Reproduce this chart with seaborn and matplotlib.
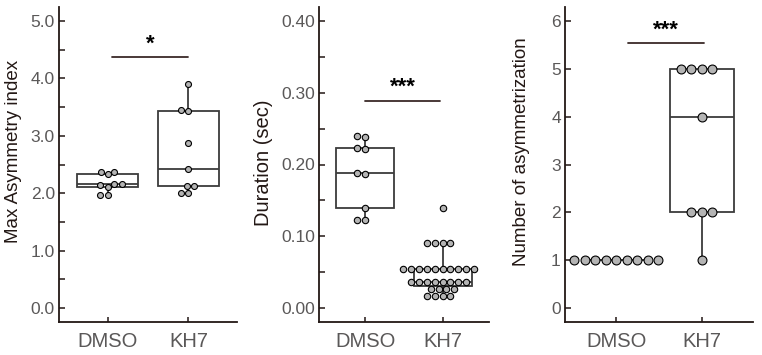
import numpy as np
import pandas as pd
import matplotlib
matplotlib.use("Agg")
import matplotlib.pyplot as plt
from matplotlib.ticker import MultipleLocator, FormatStrFormatter
import seaborn as sns
import seaborn.categorical as sc

# ── DATA ───────────────────────────────────────────────────────
GROUPS = ["DMSO", "KH7"]

asym_dmso = [1.96, 1.96, 2.10, 2.14, 2.155, 2.16, 2.33, 2.375, 2.375]
asym_kh7 = [2.0, 2.0, 2.12, 2.13, 2.43, 2.87, 3.44, 3.45, 3.91]

dur_dmso = [0.122, 0.122, 0.139, 0.187, 0.188, 0.222, 0.223, 0.239, 0.240]
dur_kh7 = ([0.017] * 4 + [0.026] * 4 + [0.036] * 8 + [0.055] * 10
           + [0.090] * 4 + [0.140])

num_dmso = [1] * 9
num_kh7 = [1, 2, 2, 2, 4, 5, 5, 5, 5]

ylabels = ["Max Asymmetry index", "Duration (sec)", "Number of asymmetrization"]
sig_text = ["*", "***", "***"]
sig_y = [4.37, 0.289, 5.53]
sig_x = [(0.06, 1.0), (0.0, 0.97), (0.14, 1.03)]

# ── STYLE ──────────────────────────────────────────────────────
sns.set_style("ticks")
plt.rcParams["font.family"] = ["Liberation Sans", "DejaVu Sans"]
INK = "#231815"
TICK = "#5a5858"
BOXC = "#3c3c3c"
DOT = "#b4b4b4"

# rows of 9-10 equal values are wider than seaborn's 0.8 swarm band,
# so switch off the gutter clipping and let the rows spread out
sc.Beeswarm.add_gutters = lambda self, points, *a, **k: points

fig = plt.figure(figsize=(7.62, 3.55), dpi=100)
pos = [(0.0774, 0.311), (0.4186, 0.6417), (0.7415, 0.988)]
bottom, top = 1 - 322 / 355, 1 - 7 / 355
label_xy = [(-0.258, 0.54), (-0.324, 0.506), (-0.234, 0.541)]

panels = [
    (asym_dmso, asym_kh7, (-0.244, 5.244), 1.0, 0.5, "%.1f", 4.3, 1.5, 13.5),
    (dur_dmso, dur_kh7, (-0.0195, 0.4195), 0.1, 0.05, "%.2f", 4.6, 2.0, 14.5),
    (num_dmso, num_kh7, (-0.29, 6.29), 1, None, "%d", 6.4, 1.5, 13.5),
]

for i, (d, k, ylim, major, minor, fmt, msize, whis, lsize) in enumerate(panels):
    l, r = pos[i]
    ax = fig.add_axes([l, bottom, r - l, top - bottom])
    df = pd.DataFrame({"group": ["DMSO"] * len(d) + ["KH7"] * len(k),
                       "value": list(d) + list(k)})
    sns.boxplot(data=df, x="group", y="value", order=GROUPS, ax=ax,
                width=0.75, whis=whis, showfliers=False, showcaps=False,
                color="white", linecolor=BOXC, linewidth=1.3)
    sns.swarmplot(data=df, x="group", y="value", order=GROUPS, ax=ax,
                  size=msize, color=DOT, edgecolor="black", linewidth=0.8,
                  zorder=3, warn_thresh=1)
    ax.set_xlim(-0.6, 1.6)
    ax.set_ylim(*ylim)
    ax.yaxis.set_major_locator(MultipleLocator(major))
    if minor:
        ax.yaxis.set_minor_locator(MultipleLocator(minor))
    ax.yaxis.set_major_formatter(FormatStrFormatter(fmt))
    ax.set_xlabel("")
    ax.set_ylabel(ylabels[i], fontsize=lsize, color=INK, va="center")
    ax.yaxis.set_label_coords(*label_xy[i])
    sns.despine(ax=ax)
    for s in ["left", "bottom"]:
        ax.spines[s].set_linewidth(1.3)
        ax.spines[s].set_color(INK)
    ax.tick_params(axis="y", which="major", direction="in", length=4.5,
                   width=1.1, colors=INK, labelcolor=TICK, labelsize=12.5, pad=3)
    ax.tick_params(axis="y", which="minor", direction="in", length=4,
                   width=1.1, colors=INK)
    ax.tick_params(axis="x", direction="in", length=3.5, width=1.1, colors=INK,
                   labelcolor=TICK, labelsize=14.5, pad=7)

    x0, x1 = sig_x[i]
    ax.plot([x0, x1], [sig_y[i], sig_y[i]], color="#3a2a28", lw=1.3)
    ax.annotate(sig_text[i], xy=((x0 + x1) / 2, sig_y[i]), xytext=(0, 2),
                textcoords="offset points", ha="center", va="bottom",
                fontsize=16, color="black", fontweight="bold")

fig.savefig("out.png", dpi=100)
